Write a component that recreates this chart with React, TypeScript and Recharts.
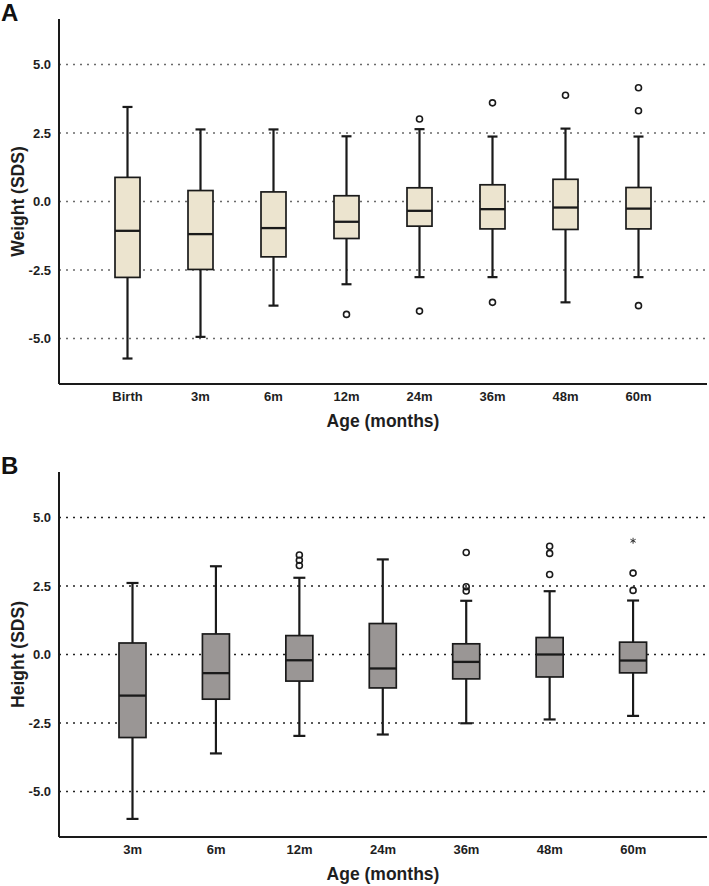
import { ComposedChart, Bar, XAxis, YAxis, CartesianGrid } from 'recharts'

// Panel A: weight SDS by age
const weightAges = ['Birth', '3m', '6m', '12m', '24m', '36m', '48m', '60m']
const weightLow = [-5.73, -4.94, -3.8, -3.02, -2.76, -2.76, -3.68, -2.76]
const weightQ1 = [-2.77, -2.48, -2.02, -1.35, -0.9, -1.0, -1.02, -1.0]
const weightMedian = [-1.07, -1.19, -0.97, -0.74, -0.34, -0.28, -0.22, -0.26]
const weightQ3 = [0.88, 0.4, 0.35, 0.21, 0.5, 0.61, 0.81, 0.51]
const weightHigh = [3.45, 2.63, 2.63, 2.38, 2.64, 2.37, 2.66, 2.37]
const weightOutliers = [[], [], [], [-4.12], [3.01, -4.0], [3.6, -3.68], [3.88], [4.15, 3.31, -3.8]]
const weightExtremes = [[], [], [], [], [], [], [], []]

// Panel B: height SDS by age
const heightAges = ['3m', '6m', '12m', '24m', '36m', '48m', '60m']
const heightLow = [-6.0, -3.61, -2.97, -2.92, -2.51, -2.37, -2.24]
const heightQ1 = [-3.03, -1.63, -0.97, -1.22, -0.89, -0.82, -0.67]
const heightMedian = [-1.5, -0.68, -0.21, -0.51, -0.27, 0.0, -0.22]
const heightQ3 = [0.42, 0.75, 0.69, 1.13, 0.39, 0.62, 0.45]
const heightHigh = [2.61, 3.22, 2.8, 3.47, 1.96, 2.31, 1.97]
const heightOutliers = [[], [], [3.63, 3.44, 3.25], [], [3.72, 2.47, 2.32], [3.95, 3.69, 2.92], [2.97, 2.34]]
const heightExtremes = [[], [], [], [], [], [], [4.15]]

const Y_TICKS = [-5, -2.5, 0, 2.5, 5]
const FONT = '"Liberation Sans", Arial, sans-serif'

const buildRows = (
  ages: string[], low: number[], q1: number[], med: number[], q3: number[], high: number[],
  outliers: number[][], extremes: number[][],
) =>
  ages.map((age, i) => ({
    age,
    range: [low[i], high[i]],
    q1: q1[i],
    med: med[i],
    q3: q3[i],
    outliers: outliers[i],
    extremes: extremes[i],
  }))

const weightRows = buildRows(weightAges, weightLow, weightQ1, weightMedian, weightQ3, weightHigh, weightOutliers, weightExtremes)
const heightRows = buildRows(heightAges, heightLow, heightQ1, heightMedian, heightQ3, heightHigh, heightOutliers, heightExtremes)

// box-and-whisker drawn inside the bar that spans low..high whisker
const makeBoxShape = (capWidth: number) => (props: any) => {
  const { x, y, width, height, payload, fill } = props
  if (!payload || height == null) return <g />
  const [low, high] = payload.range
  const top = Math.min(y, y + height)
  const bot = Math.max(y, y + height)
  const py = (v: number) => top + ((high - v) / (high - low)) * (bot - top)
  const cx = x + width / 2
  const stroke = '#1a1a1a'
  return (
    <g>
      <line x1={cx} x2={cx} y1={top} y2={bot} stroke={stroke} strokeWidth={2.2} />
      <line x1={cx - capWidth / 2} x2={cx + capWidth / 2} y1={top} y2={top} stroke={stroke} strokeWidth={2.2} />
      <line x1={cx - capWidth / 2} x2={cx + capWidth / 2} y1={bot} y2={bot} stroke={stroke} strokeWidth={2.2} />
      <rect x={x} y={py(payload.q3)} width={width} height={py(payload.q1) - py(payload.q3)} fill={fill} stroke={stroke} strokeWidth={1.7} />
      <line x1={x} x2={x + width} y1={py(payload.med)} y2={py(payload.med)} stroke={stroke} strokeWidth={2.3} />
      {payload.outliers.map((v: number, i: number) => (
        <circle key={'o' + i} cx={cx} cy={py(v)} r={3} fill="none" stroke={stroke} strokeWidth={1.6} />
      ))}
      {payload.extremes.map((v: number, i: number) => (
        <g key={'e' + i} stroke="#333" strokeWidth={1}>
          <line x1={cx} x2={cx} y1={py(v) - 3} y2={py(v) + 3} />
          <line x1={cx - 2.6} x2={cx + 2.6} y1={py(v) - 1.5} y2={py(v) + 1.5} />
          <line x1={cx - 2.6} x2={cx + 2.6} y1={py(v) + 1.5} y2={py(v) - 1.5} />
        </g>
      ))}
    </g>
  )
}

const tickStyle = { fontSize: 13, fontWeight: 700, fill: '#1e1e1e', fontFamily: FONT }

function BoxPanel({ rows, fill, barSize, capWidth, gridStroke, gridWidth }: {
  rows: any[]; fill: string; barSize: number; capWidth: number; gridStroke: string; gridWidth: number
}) {
  return (
    <ComposedChart width={709} height={420} data={rows} margin={{ top: 19, right: 2, left: 0, bottom: 6 }}>
      <CartesianGrid vertical={false} horizontalValues={Y_TICKS} stroke={gridStroke} strokeWidth={gridWidth} strokeDasharray="2 5" />
      <XAxis
        dataKey="age"
        type="category"
        interval={0}
        padding={{ left: 32, right: 32 }}
        axisLine={{ stroke: '#1a1a1a', strokeWidth: 2 }}
        tickLine={false}
        tick={tickStyle}
        height={30}
      />
      <YAxis
        type="number"
        domain={[-6.66, 6.66]}
        ticks={Y_TICKS}
        allowDataOverflow
        tickFormatter={(v: number) => v.toFixed(1)}
        axisLine={{ stroke: '#1a1a1a', strokeWidth: 2 }}
        tickLine={false}
        tick={tickStyle}
        width={59}
      />
      <Bar dataKey="range" fill={fill} barSize={barSize} shape={makeBoxShape(capWidth)} isAnimationActive={false} />
    </ComposedChart>
  )
}

const titleStyle = { fontSize: 17.5, fontWeight: 700, fill: '#1e1e1e', fontFamily: FONT }

export default function App() {
  return (
    <div style={{ position: 'absolute', left: 0, top: 0, width: 709, height: 886, background: '#fff', fontFamily: FONT }}>
      <style>{'body{margin:0}'}</style>
      <div style={{ position: 'absolute', left: 0, top: 0 }}>
        <BoxPanel rows={weightRows} fill="#ece4cf" barSize={25} capWidth={10} gridStroke="#6a6a6a" gridWidth={1.3} />
      </div>
      <div style={{ position: 'absolute', left: 0, top: 453 }}>
        <BoxPanel rows={heightRows} fill="#9a9695" barSize={27} capWidth={12} gridStroke="#222" gridWidth={1.6} />
      </div>
      <svg width={709} height={886} style={{ position: 'absolute', left: 0, top: 0, pointerEvents: 'none' }}>
        <text x={1} y={21} style={{ fontSize: 24, fontWeight: 700, fontFamily: FONT }} fill="#111">A</text>
        <text x={1} y={474} style={{ fontSize: 24, fontWeight: 700, fontFamily: FONT }} fill="#111">B</text>
        <text x={383} y={427} textAnchor="middle" style={titleStyle}>Age (months)</text>
        <text x={383} y={880} textAnchor="middle" style={titleStyle}>Age (months)</text>
        <text transform="translate(23.5,201.5) rotate(-90)" textAnchor="middle" style={titleStyle}>Weight (SDS)</text>
        <text transform="translate(23.5,654.5) rotate(-90)" textAnchor="middle" style={titleStyle}>Height (SDS)</text>
      </svg>
    </div>
  )
}
